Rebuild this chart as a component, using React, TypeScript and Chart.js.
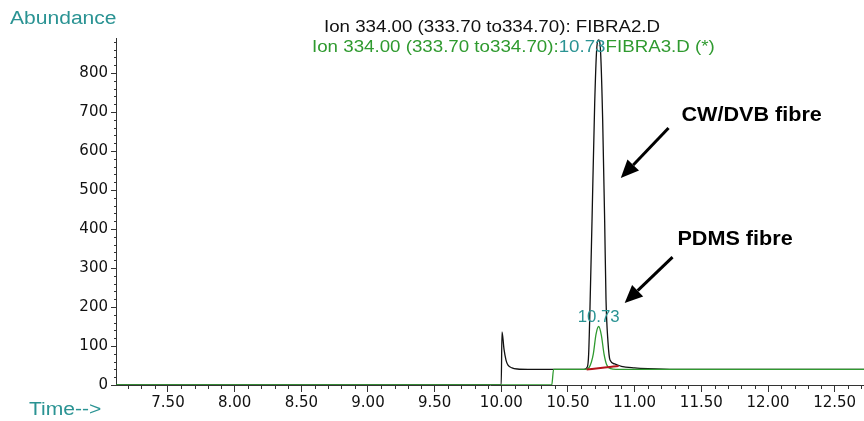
import React, { useEffect, useRef } from "react";
import { Chart, registerables } from "chart.js";

Chart.register(...registerables);

// ---- data ----
const blackTime = [7.11, 9.999, 10.005, 10.02, 10.035, 10.05, 10.08, 10.12, 10.2, 10.62, 10.645, 10.655, 10.665, 10.68, 10.7, 10.715, 10.73, 10.745, 10.76, 10.775, 10.785, 10.8, 10.815, 10.85, 10.9, 11.0, 11.1, 11.3, 12.72];
const blackAbund = [0, 0, 136, 92, 64, 51, 44, 41, 40, 40, 46, 80, 200, 420, 720, 860, 885, 850, 680, 420, 220, 110, 64, 54, 48, 44, 42, 40, 40];

const greenTime = [7.11, 10.378, 10.392, 10.63, 10.66, 10.69, 10.71, 10.73, 10.75, 10.77, 10.79, 10.82, 10.86, 12.72];
const greenAbund = [0, 0, 40, 40, 46, 80, 130, 150, 128, 80, 52, 42, 40, 40];

const redTime = [10.64, 10.76, 10.88];
const redAbund = [40, 44, 49];

const xMajorTicks = [7.5, 8.0, 8.5, 9.0, 9.5, 10.0, 10.5, 11.0, 11.5, 12.0, 12.5];
const yMajorTicks = [0, 100, 200, 300, 400, 500, 600, 700, 800];

const title1 = "Ion 334.00 (333.70 to334.70): FIBRA2.D";
const title2a = "Ion 334.00 (333.70 to334.70):";
const title2b = "10.73";
const title2c = "FIBRA3.D (*)";
const peakLabel = "10.73";
const peakTime = 10.73;
const peakLabelAbund = 172;
const note1 = "CW/DVB fibre";
const note2 = "PDMS fibre";

const FONT = '"Liberation Sans", Arial, Helvetica, sans-serif';
const TICKFONT = '"DejaVu Sans", "Liberation Sans", sans-serif';
const TEAL = "#2a9393";
const GREEN = "#2f9a2f";
const BLACK = "#111111";
const RED = "#b3141a";

const toPts = (t: number[], v: number[]) => t.map((x, i) => ({ x, y: v[i] }));

function stretchText(
  ctx: CanvasRenderingContext2D,
  text: string,
  x: number,
  y: number,
  font: string,
  color: string,
  align: CanvasTextAlign,
  sx: number
): number {
  ctx.save();
  ctx.font = font;
  ctx.fillStyle = color;
  ctx.textAlign = align;
  ctx.textBaseline = "middle";
  ctx.translate(x, y);
  ctx.scale(sx, 1);
  ctx.fillText(text, 0, 0);
  const w = ctx.measureText(text).width * sx;
  ctx.restore();
  return w;
}

function arrow(ctx: CanvasRenderingContext2D, x1: number, y1: number, x2: number, y2: number) {
  const ang = Math.atan2(y2 - y1, x2 - x1);
  const head = 18;
  const hw = 8;
  const bx = x2 - head * Math.cos(ang);
  const by = y2 - head * Math.sin(ang);
  ctx.save();
  ctx.strokeStyle = "#000";
  ctx.fillStyle = "#000";
  ctx.lineWidth = 3;
  ctx.beginPath();
  ctx.moveTo(x1, y1);
  ctx.lineTo(bx, by);
  ctx.stroke();
  ctx.beginPath();
  ctx.moveTo(x2, y2);
  ctx.lineTo(bx + hw * Math.sin(ang), by - hw * Math.cos(ang));
  ctx.lineTo(bx - hw * Math.sin(ang), by + hw * Math.cos(ang));
  ctx.closePath();
  ctx.fill();
  ctx.restore();
}

const decorPlugin = {
  id: "decor",
  afterDraw(chart: any) {
    const ctx = chart.ctx as CanvasRenderingContext2D;
    const xs = chart.scales.x;
    const ys = chart.scales.y;
    const area = chart.chartArea;
    ctx.save();
    // minor ticks
    ctx.strokeStyle = "#333";
    ctx.lineWidth = 1;
    for (let i = 72; i <= 127; i++) {
      if (i % 5 === 0) continue;
      const px = Math.round(xs.getPixelForValue(i / 10)) + 0.5;
      ctx.beginPath();
      ctx.moveTo(px, area.bottom);
      ctx.lineTo(px, area.bottom + 4);
      ctx.stroke();
    }
    for (let v = 20; v <= 880; v += 20) {
      if (v % 100 === 0) continue;
      const py = Math.round(ys.getPixelForValue(v)) + 0.5;
      ctx.beginPath();
      ctx.moveTo(area.left, py);
      ctx.lineTo(area.left - 2, py);
      ctx.stroke();
    }
    ctx.restore();

    const S = 1.17;
    // axis titles
    stretchText(ctx, "Abundance", 10, 19, `18px ${FONT}`, TEAL, "left", S);
    stretchText(ctx, "Time-->", 29, 410, `18px ${FONT}`, TEAL, "left", S);
    // titles
    stretchText(ctx, title1, 492, 28, `16px ${FONT}`, "#111", "center", S);
    let x = 312;
    x += stretchText(ctx, title2a, x, 48, `16px ${FONT}`, GREEN, "left", S);
    x += stretchText(ctx, title2b, x, 48, `16px ${FONT}`, TEAL, "left", S);
    stretchText(ctx, title2c, x, 48, `16px ${FONT}`, GREEN, "left", S);
    // peak label
    stretchText(ctx, peakLabel, xs.getPixelForValue(peakTime), ys.getPixelForValue(peakLabelAbund), `16px ${FONT}`, TEAL, "center", 1.05);
    // notes
    stretchText(ctx, note1, xs.getPixelForValue(11.351), ys.getPixelForValue(692), `bold 20px ${FONT}`, "#000", "left", 1.08);
    stretchText(ctx, note2, xs.getPixelForValue(11.321), ys.getPixelForValue(374), `bold 20px ${FONT}`, "#000", "left", 1.08);
    arrow(ctx, xs.getPixelForValue(11.254), ys.getPixelForValue(659), xs.getPixelForValue(10.896), ys.getPixelForValue(531));
    arrow(ctx, xs.getPixelForValue(11.284), ys.getPixelForValue(328), xs.getPixelForValue(10.925), ys.getPixelForValue(210));
  },
};

export default function App() {
  const ref = useRef<HTMLCanvasElement>(null);
  useEffect(() => {
    if (!ref.current) return;
    const common = { pointRadius: 0, borderWidth: 1.3, fill: false, cubicInterpolationMode: "monotone" as const };
    const chart = new Chart(ref.current, {
      type: "line",
      data: {
        datasets: [
          { ...common, label: "red", data: toPts(redTime, redAbund), borderColor: RED, borderWidth: 2, order: 0 },
          { ...common, label: "FIBRA3.D", data: toPts(greenTime, greenAbund), borderColor: GREEN, order: 1 },
          { ...common, label: "FIBRA2.D", data: toPts(blackTime, blackAbund), borderColor: BLACK, order: 2 },
        ],
      },
      options: {
        animation: false,
        responsive: false,
        events: [],
        layout: { padding: { top: 38, left: 0, right: 0, bottom: 0 } },
        plugins: { legend: { display: false }, tooltip: { enabled: false } },
        scales: {
          x: {
            type: "linear",
            min: 7.11,
            max: 12.72,
            afterFit: (s: any) => { s.height = 36; },
            afterBuildTicks: (s: any) => { s.ticks = xMajorTicks.map((v) => ({ value: v })); },
            ticks: {
              color: "#111",
              font: { family: TICKFONT, size: 15 },
              padding: 2,
              maxRotation: 0,
              autoSkip: false,
              callback: (v: any) => Number(v).toFixed(2),
            },
            grid: { display: true, drawOnChartArea: false, drawTicks: true, tickLength: 7, color: "#333" },
            border: { display: true, color: "#333", width: 1 },
          },
          y: {
            type: "linear",
            min: 0,
            max: 890,
            afterFit: (s: any) => { s.width = 116; },
            afterBuildTicks: (s: any) => { s.ticks = yMajorTicks.map((v) => ({ value: v })); },
            ticks: {
              color: "#111",
              font: { family: TICKFONT, size: 15 },
              padding: 3,
              autoSkip: false,
            },
            grid: { display: true, drawOnChartArea: false, drawTicks: true, tickLength: 5, color: "#333" },
            border: { display: true, color: "#333", width: 1 },
          },
        },
      },
      plugins: [decorPlugin],
    });
    return () => chart.destroy();
  }, []);
  return (
    <div style={{ position: "absolute", left: 0, top: 0, width: 864, height: 421, background: "#fff" }}>
      <canvas ref={ref} width={864} height={421} />
    </div>
  );
}
